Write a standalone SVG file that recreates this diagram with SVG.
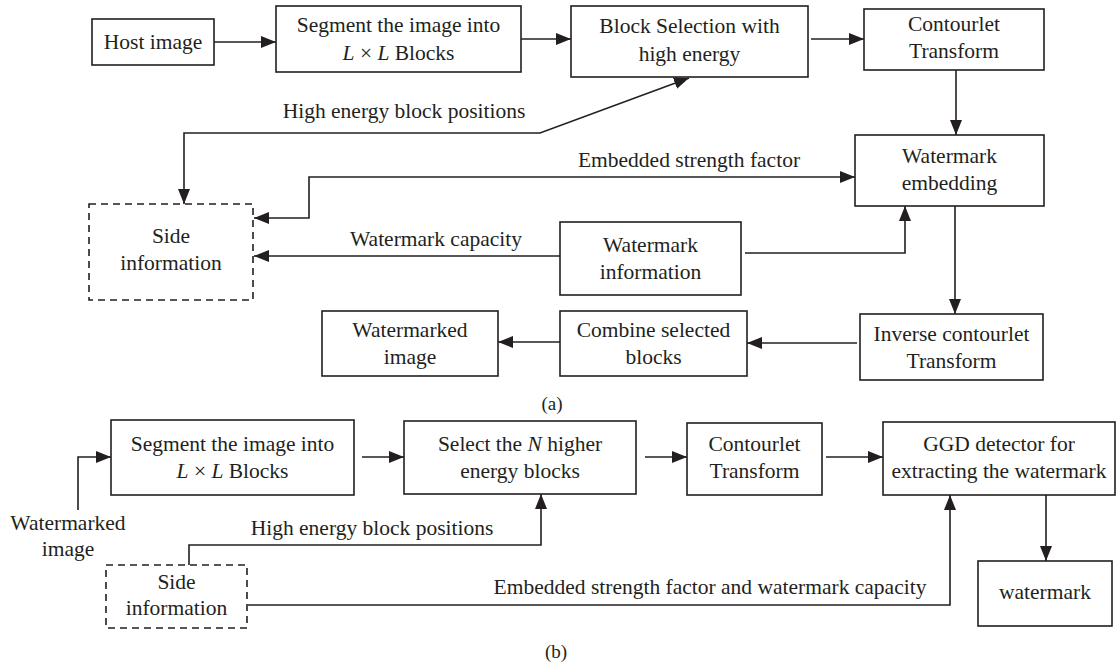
<svg xmlns="http://www.w3.org/2000/svg" width="1119" height="667" viewBox="0 0 1119 667">
<defs>
<marker id="ah" markerUnits="userSpaceOnUse" markerWidth="16" markerHeight="12" refX="15" refY="6" orient="auto-start-reverse">
<path d="M0,0 L15,6 L0,12 z" fill="#231f20"/>
</marker>
</defs>
<style>
.box{fill:#fff;stroke:#231f20;stroke-width:1.6}
.dash{fill:#fff;stroke:#231f20;stroke-width:1.6;stroke-dasharray:7 5}
.t{font-family:"Liberation Serif","Times New Roman",serif;font-size:21.5px;fill:#231f20;text-anchor:middle}
.cap{font-family:"Liberation Serif","Times New Roman",serif;font-size:19px;fill:#231f20;text-anchor:middle}
.c{fill:none;stroke:#231f20;stroke-width:1.6}
.i{font-style:italic}
</style>
<rect width="1119" height="667" fill="#fff"/>

<g id="connectors">
<path class="c" d="M214,42 H276" marker-end="url(#ah)"/>
<path class="c" d="M521,39 H571" marker-end="url(#ah)"/>
<path class="c" d="M811,39 H864" marker-end="url(#ah)"/>
<path class="c" d="M956,70 V135" marker-end="url(#ah)"/>
<path class="c" d="M184,204 V133 H540 L689,78" marker-start="url(#ah)" marker-end="url(#ah)"/>
<path class="c" d="M254,218 H309 V177 H855" marker-start="url(#ah)" marker-end="url(#ah)"/>
<path class="c" d="M560,256 H254" marker-end="url(#ah)"/>
<path class="c" d="M745,253 H905 V206" marker-end="url(#ah)"/>
<path class="c" d="M955,206 V314" marker-end="url(#ah)"/>
<path class="c" d="M857,343 H747" marker-end="url(#ah)"/>
<path class="c" d="M560,342 H498" marker-end="url(#ah)"/>

<path class="c" d="M78,510 V457 H111" marker-end="url(#ah)"/>
<path class="c" d="M362,457 H404" marker-end="url(#ah)"/>
<path class="c" d="M645,457 H687" marker-end="url(#ah)"/>
<path class="c" d="M826,457 H883" marker-end="url(#ah)"/>
<path class="c" d="M1046,495 V561" marker-end="url(#ah)"/>
<path class="c" d="M189,565 V545 H541 V494" marker-end="url(#ah)"/>
<path class="c" d="M248,605 H950 V495" marker-end="url(#ah)"/>

<text class="t" x="404" y="118">High energy block positions</text>
<text class="t" x="689" y="167">Embedded strength factor</text>
<text class="t" x="436" y="246">Watermark capacity</text>
<text class="t" x="372" y="535">High energy block positions</text>
<text class="t" x="710" y="594">Embedded strength factor and watermark capacity</text>
</g>

<g id="host-image">
<rect class="box" x="92" y="19" width="122" height="46"/>
<text class="t" x="153" y="49">Host image</text>
</g>
<g id="segment-a">
<rect class="box" x="276" y="6" width="245" height="66"/>
<text class="t" x="398.5" y="32">Segment the image into</text>
<text class="t" x="398.5" y="60"><tspan class="i">L</tspan> × <tspan class="i">L</tspan> Blocks</text>
</g>
<g id="block-selection">
<rect class="box" x="571" y="6" width="237" height="71"/>
<text class="t" x="689.5" y="33">Block Selection with</text>
<text class="t" x="689.5" y="61">high energy</text>
</g>
<g id="contourlet-a">
<rect class="box" x="864" y="9" width="180" height="61"/>
<text class="t" x="954" y="31">Contourlet</text>
<text class="t" x="954" y="58">Transform</text>
</g>
<g id="watermark-embedding">
<rect class="box" x="855" y="135" width="189" height="71"/>
<text class="t" x="949.5" y="163">Watermark</text>
<text class="t" x="949.5" y="190">embedding</text>
</g>
<g id="side-info-a">
<rect class="dash" x="89" y="204" width="164" height="96"/>
<text class="t" x="171" y="243">Side</text>
<text class="t" x="171" y="270">information</text>
</g>
<g id="watermark-information">
<rect class="box" x="560" y="222" width="181" height="73"/>
<text class="t" x="650.5" y="252">Watermark</text>
<text class="t" x="650.5" y="279">information</text>
</g>
<g id="inverse-contourlet">
<rect class="box" x="860" y="314" width="183" height="66"/>
<text class="t" x="951.5" y="341">Inverse contourlet</text>
<text class="t" x="951.5" y="368">Transform</text>
</g>
<g id="combine-blocks">
<rect class="box" x="560" y="311" width="187" height="65"/>
<text class="t" x="653.5" y="337">Combine selected</text>
<text class="t" x="653.5" y="364">blocks</text>
</g>
<g id="watermarked-image-a">
<rect class="box" x="322" y="311" width="176" height="65"/>
<text class="t" x="410" y="337">Watermarked</text>
<text class="t" x="410" y="364">image</text>
</g>
<text class="cap" x="552" y="410">(a)</text>

<g id="watermarked-image-b">
<text class="t" x="68" y="530">Watermarked</text>
<text class="t" x="68" y="556">image</text>
</g>
<g id="segment-b">
<rect class="box" x="111" y="420" width="243" height="75"/>
<text class="t" x="232.5" y="451">Segment the image into</text>
<text class="t" x="232.5" y="478"><tspan class="i">L</tspan> × <tspan class="i">L</tspan> Blocks</text>
</g>
<g id="select-blocks">
<rect class="box" x="404" y="421" width="232" height="73"/>
<text class="t" x="520" y="451">Select the <tspan class="i">N</tspan> higher</text>
<text class="t" x="520" y="478">energy blocks</text>
</g>
<g id="contourlet-b">
<rect class="box" x="687" y="423" width="135" height="72"/>
<text class="t" x="754.5" y="451">Contourlet</text>
<text class="t" x="754.5" y="478">Transform</text>
</g>
<g id="ggd-detector">
<rect class="box" x="883" y="422" width="232" height="73"/>
<text class="t" x="999" y="451">GGD detector for</text>
<text class="t" x="999" y="478">extracting the watermark</text>
</g>
<g id="watermark-out">
<rect class="box" x="978" y="561" width="134" height="65"/>
<text class="t" x="1045" y="599">watermark</text>
</g>
<g id="side-info-b">
<rect class="dash" x="106" y="565" width="141" height="63"/>
<text class="t" x="176.5" y="589">Side</text>
<text class="t" x="176.5" y="615">information</text>
</g>
<text class="cap" x="556" y="658">(b)</text>
</svg>
